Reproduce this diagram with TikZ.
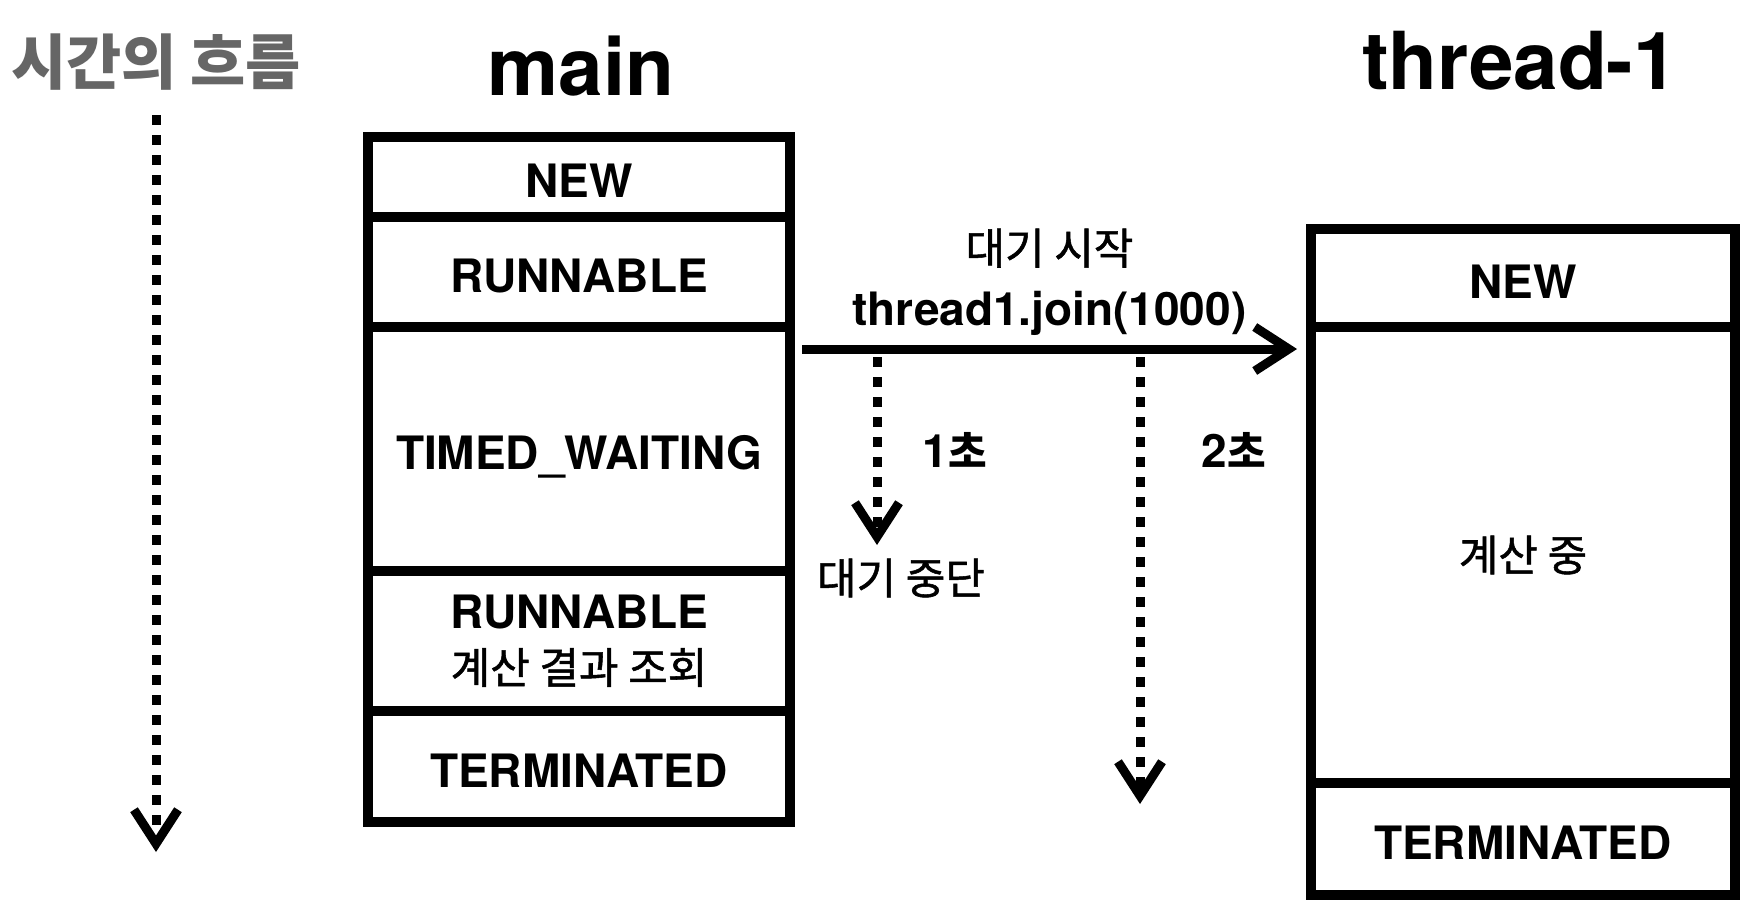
\documentclass[tikz,border=0pt]{standalone}
\usepackage{fontspec}
\setmainfont{TeX Gyre Heros}
\newfontfamily\kr{Noto Sans CJK KR}
\newfontfamily\krmed[FakeBold=1.2]{Noto Sans CJK KR}
\usetikzlibrary{arrows.meta, positioning, calc}
\definecolor{timegray}{HTML}{666666}
\newcommand{\krreg}[1]{{\fontsize{43}{62}\selectfont\mdseries\krmed #1}}
\newcommand{\krbold}[1]{{\fontsize{42}{57}\selectfont\bfseries\kr #1}}

\begin{document}
\begin{tikzpicture}[
		x=1pt, y=1pt,
		font=\fontsize{46}{57}\selectfont\bfseries,
		cell/.style={draw=black, line width=10pt, outer sep=0pt, inner sep=0pt, align=center},
		onecell/.style={cell, text height=41pt, text depth=0pt},
		maincell/.style={minimum width=422pt},
		threadcell/.style={minimum width=424pt},
		title/.style={font=\fontsize{80}{90}\selectfont\bfseries},
		barb/.style={-{Straight Barb[length=34pt, width=44pt]}},
		joinarrow/.style={barb, line width=9pt},
		timeline/.style={barb, line width=9pt, dash pattern=on 10pt off 10pt}
		]
		
		\fill[white] (0,0) rectangle (1742,-902);
		\useasboundingbox (0,0) rectangle (1742,-902);
		
		% Left: flow of time
		\node[font=\fontsize{60}{64}\selectfont\bfseries\kr, text=timegray] (timetitle) at (156,-62) {시간의 흐름};
		\coordinate (tstart) at (156,-115);
		\coordinate (tend) at (156,-852);
		\draw[timeline] (tstart) -- (tend);
		
		% Middle: main thread states
		\node[title, anchor=base] (maintitle) at (581,-95) {main};
		\node[onecell, maincell, minimum height=80pt] (mnew) at (579,-177) {NEW};
		\node[onecell, maincell, minimum height=110pt, below=0pt of mnew] (mrun) {RUNNABLE};
		\node[onecell, maincell, minimum height=244pt, below=0pt of mrun] (mwait) {TIMED\_WAITING};
		\node[cell, maincell, minimum height=140pt, below=0pt of mwait] (mrun2) {RUNNABLE\\[-2pt]\krreg{계산 결과 조회}};
		\node[onecell, maincell, minimum height=111pt, below=0pt of mrun2] (mterm) {TERMINATED};
		
		% Right: thread-1 states
		\node[title, anchor=base] (threadtitle) at (1520,-89) {thread-1};
		\node[onecell, threadcell, minimum height=98pt] (tnew) at (1523,-278) {NEW};
		\node[cell, threadcell, minimum height=456pt, below=0pt of tnew] (twork) {\krreg{계산 중}};
		\node[onecell, threadcell, minimum height=112pt, below=0pt of twork] (tterm) {TERMINATED};
		
		% join call
		\draw[joinarrow] ($(mwait.north east)+(12,-22)$) coordinate (jstart)
		-- ($(twork.north west)+(-14,-22)$) coordinate (jend)
		node[midway, above=6pt, align=center] (joinlabel) {\krreg{대기 시작}\\[4pt]thread1.join(1000)};
		
		% waiting times
		\coordinate (w1top) at (877,-357);
		\coordinate (w1end) at (877,-545);
		\draw[timeline] (w1top) -- (w1end);
		\node (sec1) at (955,-450) {1\krbold{초}};
		\node (stopped) at (901,-578) {\krreg{대기 중단}};
		
		\coordinate (w2top) at (1140,-357);
		\coordinate (w2end) at (1140,-804);
		\draw[timeline] (w2top) -- (w2end);
		\node (sec2) at (1234,-450) {2\krbold{초}};
		
	\end{tikzpicture}
\end{document}
